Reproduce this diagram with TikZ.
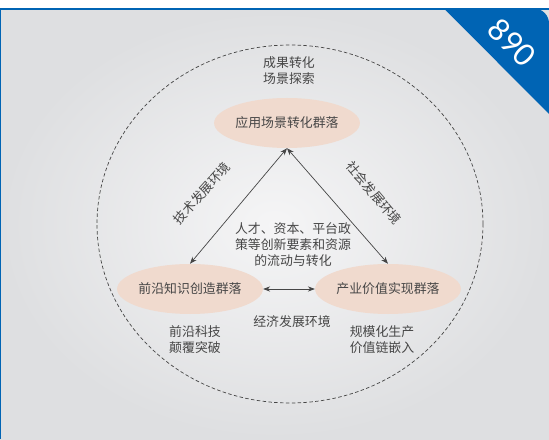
\documentclass[tikz,border=0pt]{standalone}
\usepackage{fontspec}
\newfontfamily\cjk{Noto Sans CJK SC}
\newfontfamily\numfont{Lato}
\usetikzlibrary{arrows.meta,shapes.geometric}
\definecolor{edgeblue}{RGB}{0,100,180}
\definecolor{peach}{RGB}{240,218,206}
\definecolor{txt}{RGB}{70,70,70}
\definecolor{bgin}{RGB}{245,245,246}
\definecolor{bgout}{RGB}{222,223,225}

\begin{document}
\begin{tikzpicture}[x=0.03cm, y=0.03cm,
  group/.style={ellipse, fill=peach, minimum width=3.96cm, minimum height=1.5cm, inner sep=0pt, text=txt, font=\cjk\fontsize{11}{13.6}\selectfont},
  note/.style={align=center, text=txt, font=\cjk\fontsize{11}{13.6}\selectfont},
  link/.style={{Stealth[length=6pt,width=4.5pt]}-{Stealth[length=6pt,width=4.5pt]}, draw=txt, line width=0.6pt}]
\useasboundingbox (0,0) rectangle (549,439);
\fill[white] (0,0) rectangle (549,439);
\shade[inner color=bgin, outer color=bgout] (0,0) rectangle (549,428.5);
\fill[edgeblue] (0,428.5) rectangle (549,430.5);
\fill[edgeblue] (0,0) rectangle (1.5,430.5);
\fill[edgeblue] (444,430.5) -- (534,430.5) arc (90:0:15) -- (549,325) -- cycle;
\node[white, rotate=-45, font=\numfont\fontsize{26}{26}\selectfont] (num) at (512,396) {890};

% outer ring
\draw[txt, line width=0.6pt, dash pattern=on 3pt off 2pt] (290,215) ellipse [x radius=193, y radius=179];

% clusters
\node[group] (app) at (287,316) {应用场景转化群落};
\node[group] (front) at (190,150) {前沿知识创造群落};
\node[group] (indus) at (388,150) {产业价值实现群落};

\draw[link] (app.south) -- (front.north);
\draw[link] (app.south) -- (indus.north);
\draw[link] (front.east) -- (indus.west);

% labels
\node[note] (explore) at (289,368) {成果转化\\场景探索};
\node[note] (flow) at (293,194) {人才、资本、平台政\\策等创新要素和资源\\的流动与转化};
\node[note] (econ) at (292,117) {经济发展环境};
\node[note] (tech) at (195,99) {前沿科技\\颠覆突破};
\node[note] (scale) at (382,99) {规模化生产\\价值链嵌入};
\node[note, rotate=48] (techenv) at (202,246) {技术发展环境};
\node[note, rotate=-50] (socenv) at (374,246) {社会发展环境};
\end{tikzpicture}
\end{document}
